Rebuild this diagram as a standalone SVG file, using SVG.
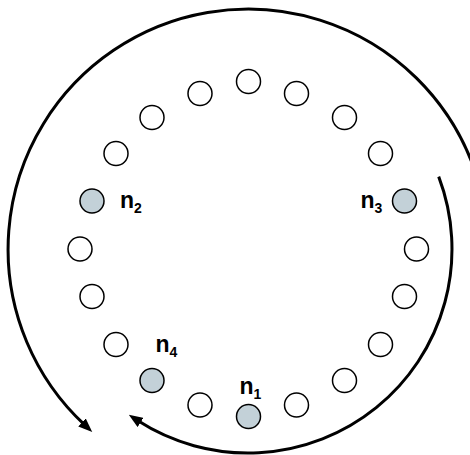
<svg xmlns="http://www.w3.org/2000/svg" width="470" height="455" viewBox="0 0 470 455">
<style>
.node{stroke:#000;stroke-width:1.5}
.plain{fill:#fff}
.mark{fill:#c3d1d8}
.arc{fill:none;stroke:#000;stroke-width:3}
.lbl{font-family:"Liberation Sans",Arial,sans-serif;font-weight:bold;font-size:23px;fill:#000}
.sub{font-size:14px}
</style>
<defs>
<marker id="ah" markerUnits="userSpaceOnUse" viewBox="0 0 14 11" markerWidth="14" markerHeight="11" refX="4" refY="5.5" orient="auto">
<path d="M0,0 L14,5.5 L0,11 z" fill="#000"/>
</marker>
</defs>
<rect width="470" height="455" fill="#fff"/>
<g id="connectors">
<path class="arc" d="M472.1,163.0 A240,240 0 1 0 84.9,425.1" marker-end="url(#ah)"/>
<path class="arc" d="M438.7,176.6 A204,204 0 0 1 137.2,420.3" marker-end="url(#ah)"/>
</g>
<g id="c01"><circle class="node plain" cx="248.5" cy="81.5" r="12"/></g>
<g id="c02"><circle class="node plain" cx="200" cy="93.5" r="12"/></g>
<g id="c03"><circle class="node plain" cx="296.5" cy="93.5" r="12"/></g>
<g id="c04"><circle class="node plain" cx="152" cy="117.5" r="12"/></g>
<g id="c05"><circle class="node plain" cx="344.5" cy="117.5" r="12"/></g>
<g id="c06"><circle class="node plain" cx="116" cy="153.5" r="12"/></g>
<g id="c07"><circle class="node plain" cx="380.5" cy="153.5" r="12"/></g>
<g id="n2"><circle class="node mark" cx="92" cy="201" r="12"/><text class="lbl" x="120" y="208">n<tspan class="sub" dy="5">2</tspan></text></g>
<g id="n3"><circle class="node mark" cx="404.5" cy="201" r="12"/><text class="lbl" x="360.5" y="208">n<tspan class="sub" dy="5">3</tspan></text></g>
<g id="c08"><circle class="node plain" cx="80" cy="249" r="12"/></g>
<g id="c09"><circle class="node plain" cx="416.5" cy="249" r="12"/></g>
<g id="c10"><circle class="node plain" cx="92" cy="296.5" r="12"/></g>
<g id="c11"><circle class="node plain" cx="404.5" cy="296.5" r="12"/></g>
<g id="c12"><circle class="node plain" cx="116" cy="344.5" r="12"/></g>
<g id="c13"><circle class="node plain" cx="380.5" cy="344.5" r="12"/></g>
<g id="n4"><circle class="node mark" cx="152" cy="380.5" r="12"/><text class="lbl" x="155.5" y="352">n<tspan class="sub" dy="5">4</tspan></text></g>
<g id="c14"><circle class="node plain" cx="344.5" cy="380.5" r="12"/></g>
<g id="c15"><circle class="node plain" cx="200" cy="405" r="12"/></g>
<g id="c16"><circle class="node plain" cx="296.5" cy="405" r="12"/></g>
<g id="n1"><circle class="node mark" cx="248.5" cy="416.5" r="12"/><text class="lbl" x="239.5" y="393.5">n<tspan class="sub" dy="5">1</tspan></text></g>
</svg>
